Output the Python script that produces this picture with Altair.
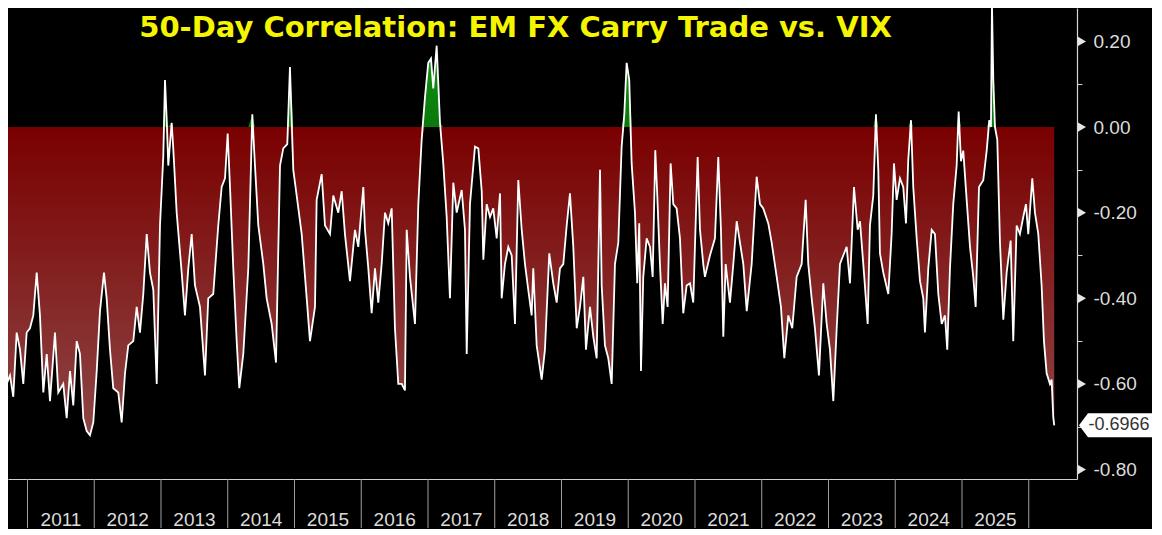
import altair as alt
import pandas as pd

TITLE = "50-Day Correlation: EM FX Carry Trade vs. VIX"

# decimal-year dates and 50-day correlation values
dates_a = [2010.588, 2010.637, 2010.688, 2010.738, 2010.787, 2010.838, 2010.888, 2010.937, 2010.988, 2011.037,
           2011.087, 2011.138, 2011.187, 2011.237, 2011.288, 2011.337, 2011.412, 2011.461, 2011.536, 2011.587,
           2011.637, 2011.686, 2011.737, 2011.786, 2011.836, 2011.887, 2011.936, 2011.986, 2012.037, 2012.086,
           2012.146, 2012.186, 2012.236, 2012.285, 2012.360, 2012.411, 2012.461, 2012.510, 2012.585, 2012.636,
           2012.685, 2012.735, 2012.786, 2012.835, 2012.885, 2012.936, 2012.985, 2013.034, 2013.060, 2013.085,
           2013.109, 2013.160, 2013.184, 2013.235, 2013.310, 2013.359, 2013.409, 2013.460, 2013.509, 2013.584,
           2013.659, 2013.708, 2013.783, 2013.858, 2013.909, 2013.959, 2013.999, 2014.034, 2014.083, 2014.134,
           2014.173, 2014.233, 2014.308, 2014.368, 2014.408, 2014.458, 2014.533, 2014.583, 2014.658, 2014.723,
           2014.783, 2014.832, 2014.892, 2014.932, 2014.982, 2015.033, 2015.108, 2015.183, 2015.232, 2015.307,
           2015.332, 2015.407, 2015.457, 2015.532, 2015.581, 2015.656, 2015.707, 2015.756, 2015.831, 2015.881]
corr_a = [-0.47, -0.56, -0.60, -0.58, -0.63, -0.48, -0.52, -0.60, -0.48, -0.47,
          -0.44, -0.34, -0.44, -0.62, -0.53, -0.64, -0.48, -0.62, -0.60, -0.68,
          -0.57, -0.65, -0.50, -0.53, -0.68, -0.71, -0.72, -0.69, -0.57, -0.43,
          -0.34, -0.40, -0.52, -0.61, -0.62, -0.69, -0.575, -0.51, -0.50, -0.42,
          -0.48, -0.39, -0.25, -0.34, -0.38, -0.60, -0.23, -0.07, 0.11, 0.02,
          -0.09, 0.01, -0.05, -0.20, -0.34, -0.44, -0.33, -0.25, -0.37, -0.42,
          -0.58, -0.40, -0.39, -0.23, -0.14, -0.12, -0.015, -0.14, -0.33, -0.50,
          -0.61, -0.53, -0.33, 0.03, -0.09, -0.23, -0.32, -0.40, -0.46, -0.55,
          -0.09, -0.05, -0.04, 0.14, -0.10, -0.16, -0.25, -0.40, -0.50, -0.42,
          -0.17, -0.11, -0.23, -0.25, -0.16, -0.20, -0.15, -0.25, -0.36, -0.28]

dates_b = [2015.906, 2015.956, 2016.031, 2016.056, 2016.106, 2016.156, 2016.206, 2016.255, 2016.306, 2016.356,
           2016.405, 2016.456, 2016.505, 2016.555, 2016.606, 2016.655, 2016.681, 2016.730, 2016.805, 2016.855,
           2016.905, 2016.955, 2017.004, 2017.045, 2017.079, 2017.130, 2017.180, 2017.229, 2017.280, 2017.329,
           2017.379, 2017.430, 2017.505, 2017.554, 2017.580, 2017.629, 2017.704, 2017.754, 2017.805, 2017.829,
           2017.879, 2017.929, 2017.978, 2018.029, 2018.079, 2018.104, 2018.153, 2018.203, 2018.254, 2018.303,
           2018.353, 2018.404, 2018.453, 2018.502, 2018.553]
corr_b = [-0.24, -0.28, -0.14, -0.24, -0.33, -0.435, -0.33, -0.41, -0.32, -0.20,
          -0.225, -0.19, -0.47, -0.60, -0.60, -0.615, -0.24, -0.35, -0.46, -0.18,
          -0.03, 0.07, 0.15, 0.16, 0.09, 0.19, 0.01, -0.085, -0.21, -0.40,
          -0.13, -0.20, -0.147, -0.24, -0.53, -0.18, -0.046, -0.05, -0.15, -0.31,
          -0.18, -0.21, -0.19, -0.26, -0.155, -0.40, -0.32, -0.28, -0.30, -0.46,
          -0.124, -0.24, -0.32, -0.38, -0.44]

dates_c = [2018.577, 2018.628, 2018.703, 2018.752, 2018.817, 2018.877, 2018.928, 2018.977, 2019.027, 2019.078,
           2019.127, 2019.177, 2019.228, 2019.277, 2019.327, 2019.367, 2019.427, 2019.477, 2019.527, 2019.577,
           2019.602, 2019.651, 2019.701, 2019.752, 2019.801, 2019.851, 2019.901, 2019.941, 2019.976, 2020.015,
           2020.051, 2020.101, 2020.135, 2020.165, 2020.191, 2020.225, 2020.276, 2020.326, 2020.366, 2020.405,
           2020.435, 2020.475, 2020.516, 2020.550, 2020.590, 2020.635, 2020.675, 2020.725, 2020.775, 2020.824,
           2020.875, 2020.925, 2020.974, 2021.040, 2021.075, 2021.124]
corr_c = [-0.33, -0.51, -0.59, -0.52, -0.295, -0.365, -0.41, -0.33, -0.32, -0.23,
          -0.155, -0.28, -0.47, -0.42, -0.35, -0.52, -0.42, -0.49, -0.54, -0.10,
          -0.37, -0.51, -0.54, -0.60, -0.32, -0.27, -0.046, 0.03, 0.15, 0.11,
          -0.085, -0.20, -0.365, -0.225, -0.57, -0.35, -0.26, -0.28, -0.35, -0.054,
          -0.16, -0.32, -0.46, -0.365, -0.42, -0.085, -0.18, -0.19, -0.26, -0.435,
          -0.37, -0.365, -0.41, -0.07, -0.24, -0.32]

dates_d = [2021.149, 2021.224, 2021.299, 2021.349, 2021.389, 2021.424, 2021.460, 2021.524, 2021.574, 2021.625,
           2021.674, 2021.724, 2021.775, 2021.849, 2021.924, 2021.974, 2022.023, 2022.098, 2022.149, 2022.224,
           2022.288, 2022.338, 2022.398, 2022.457, 2022.523, 2022.598, 2022.658, 2022.697, 2022.748, 2022.797,
           2022.857, 2022.922, 2022.973, 2023.022, 2023.072, 2023.123, 2023.172, 2023.221, 2023.272, 2023.322,
           2023.382, 2023.437, 2023.472, 2023.536, 2023.587, 2023.621, 2023.671, 2023.711, 2023.746]
corr_d = [-0.35, -0.30, -0.26, -0.07, -0.24, -0.49, -0.32, -0.41, -0.32, -0.22,
          -0.27, -0.32, -0.43, -0.32, -0.116, -0.18, -0.19, -0.225, -0.27, -0.35,
          -0.42, -0.54, -0.44, -0.47, -0.35, -0.32, -0.17, -0.32, -0.40, -0.47,
          -0.58, -0.365, -0.46, -0.52, -0.64, -0.47, -0.32, -0.30, -0.28, -0.365,
          -0.14, -0.24, -0.22, -0.35, -0.46, -0.23, -0.16, 0.03, -0.10]

dates_e = [2023.771, 2023.821, 2023.896, 2023.946, 2023.981, 2024.021, 2024.071, 2024.120, 2024.161, 2024.195,
           2024.236, 2024.270, 2024.321, 2024.371, 2024.420, 2024.445, 2024.495, 2024.546, 2024.595, 2024.645,
           2024.696, 2024.745, 2024.779, 2024.820, 2024.869, 2024.920, 2024.950, 2024.985, 2025.019, 2025.070,
           2025.120, 2025.169, 2025.205, 2025.255, 2025.319, 2025.370, 2025.409, 2025.434, 2025.449, 2025.469,
           2025.494, 2025.529, 2025.569, 2025.619, 2025.669, 2025.729, 2025.768, 2025.819, 2025.868, 2025.918,
           2025.958, 2025.993, 2026.053, 2026.093, 2026.143, 2026.193, 2026.228, 2026.268, 2026.318, 2026.343,
           2026.367, 2026.382]
corr_e = [-0.295, -0.34, -0.39, -0.25, -0.085, -0.17, -0.12, -0.14, -0.225, -0.077,
          0.016, -0.14, -0.26, -0.36, -0.40, -0.48, -0.33, -0.24, -0.25, -0.39,
          -0.46, -0.44, -0.52, -0.33, -0.18, -0.09, 0.036, -0.08, -0.055, -0.17,
          -0.28, -0.35, -0.42, -0.14, -0.124, -0.055, 0.016, 0.0, 0.29, 0.11,
          0.0, -0.03, -0.27, -0.45, -0.34, -0.265, -0.50, -0.23, -0.25, -0.21,
          -0.18, -0.25, -0.12, -0.20, -0.25, -0.37, -0.50, -0.575, -0.60, -0.59,
          -0.677, -0.6966]

year_ticks = list(range(2011, 2027))
y_ticks = [-0.8, -0.7, -0.6, -0.5, -0.4, -0.3, -0.2, -0.1, 0.0, 0.1, 0.2]
y_major = [-0.8, -0.6, -0.4, -0.2, 0.0, 0.2]

dates = dates_a + dates_b + dates_c + dates_d + dates_e
corr = corr_a + corr_b + corr_c + corr_d + corr_e
df = pd.DataFrame({"t": dates, "v": corr})

W, H = 1069, 471
LABEL_FONT = "Liberation Sans"
xscale = alt.Scale(domain=[2010.708, 2026.723], nice=False, zero=False)
yscale = alt.Scale(domain=[-0.822, 0.278], nice=False, zero=False)

red_grad = alt.Gradient(
    gradient="linear",
    stops=[alt.GradientStop(color="#7a0000", offset=0),
           alt.GradientStop(color="#8e4646", offset=1)],
    x1=0, x2=0, y1=0, y2=1,
)
green_grad = alt.Gradient(
    gradient="linear",
    stops=[alt.GradientStop(color="#17a017", offset=0),
           alt.GradientStop(color="#0b780b", offset=1)],
    x1=0, x2=0, y1=0, y2=1,
)

x_axis = alt.Axis(
    values=year_ticks,
    labelExpr="datum.value < 2026 ? '' + datum.value : ''",
    ticks=False, grid=False, title=None,
    domainColor="#cfcfcf", domainWidth=1.2,
    labelColor="#dcdcdc", labelFont=LABEL_FONT, labelFontSize=19,
    labelOffset=33, labelPadding=31, labelFlush=False, labelOverlap=False,
)
y_axis = alt.Axis(
    orient="right", values=y_ticks,
    labelExpr="abs(round(datum.value * 10)) % 2 == 0 ? (datum.value < -0.001 ? '-' : '') + format(abs(datum.value), '.2f') : ''",
    tickSize=5, tickColor="#d0d0d0", domainColor="#d8d8d8", domainWidth=1.2,
    grid=False, title=None,
    labelColor="#dcdcdc", labelFont=LABEL_FONT, labelFontSize=19,
    labelPadding=11, labelFlush=False, labelOverlap=False,
)


def X(field):
    return alt.X(field, scale=xscale, axis=x_axis)


def Y(field):
    return alt.Y(field, scale=yscale, axis=y_axis)


base = alt.Chart(df).transform_calculate(
    neg="min(datum.v, 0)", pos="max(datum.v, 0)", zero="0"
)

neg_area = base.mark_area(clip=True, color=red_grad).encode(
    x=X("t:Q"), y=Y("neg:Q"), y2="zero:Q",
)
pos_area = base.mark_area(clip=True, color=green_grad).encode(
    x=X("t:Q"), y=Y("pos:Q"), y2="zero:Q",
)
line = alt.Chart(df).mark_line(clip=True, color="white", strokeWidth=1.8).encode(
    x=X("t:Q"), y=Y("v:Q"),
)

tick_rules = alt.Chart(pd.DataFrame({"t": year_ticks})).mark_rule(
    color="#a0a0a0", strokeWidth=1
).encode(
    x=X("t:Q"),
    y=alt.value(H),
    y2=alt.value(H + 49),
)

tri = alt.Chart(pd.DataFrame({"v": y_major})).mark_point(
    shape="triangle-right", filled=True, color="#e6e6e6", size=85, opacity=1
).encode(
    x=alt.value(W + 5),
    y=Y("v:Q"),
)

last = pd.DataFrame({"v": [corr[-1]], "label": [f"{corr[-1]:.4f}"]})
box = alt.Chart(last).mark_point(
    shape="M-1,0 L-0.753,-0.329 L1,-0.329 L1,0.329 L-0.753,0.329 Z",
    filled=True, color="white", size=5329, opacity=1
).encode(
    x=alt.value(W + 2 + 36.5),
    y=Y("v:Q"),
)
box_text = alt.Chart(last).mark_text(
    color="#333333", font=LABEL_FONT, fontSize=18, align="center", baseline="middle"
).encode(
    x=alt.value(W + 42),
    y=Y("v:Q"),
    text="label:N",
)

title = alt.Chart(pd.DataFrame({"title": [TITLE]})).mark_text(
    color="#f5f500", font="DejaVu Sans", fontWeight="bold", fontSize=29,
    align="center", baseline="alphabetic"
).encode(
    x=alt.value(507.5),
    y=alt.value(29),
    text="title:N",
)

chart = alt.layer(
    neg_area, pos_area, line, tick_rules, tri, box, box_text, title
).properties(
    width=W, height=H, padding=0, background="#000000"
).configure_view(strokeWidth=0)

chart.save("out.html", embed_options={"renderer": "svg", "actions": False})
